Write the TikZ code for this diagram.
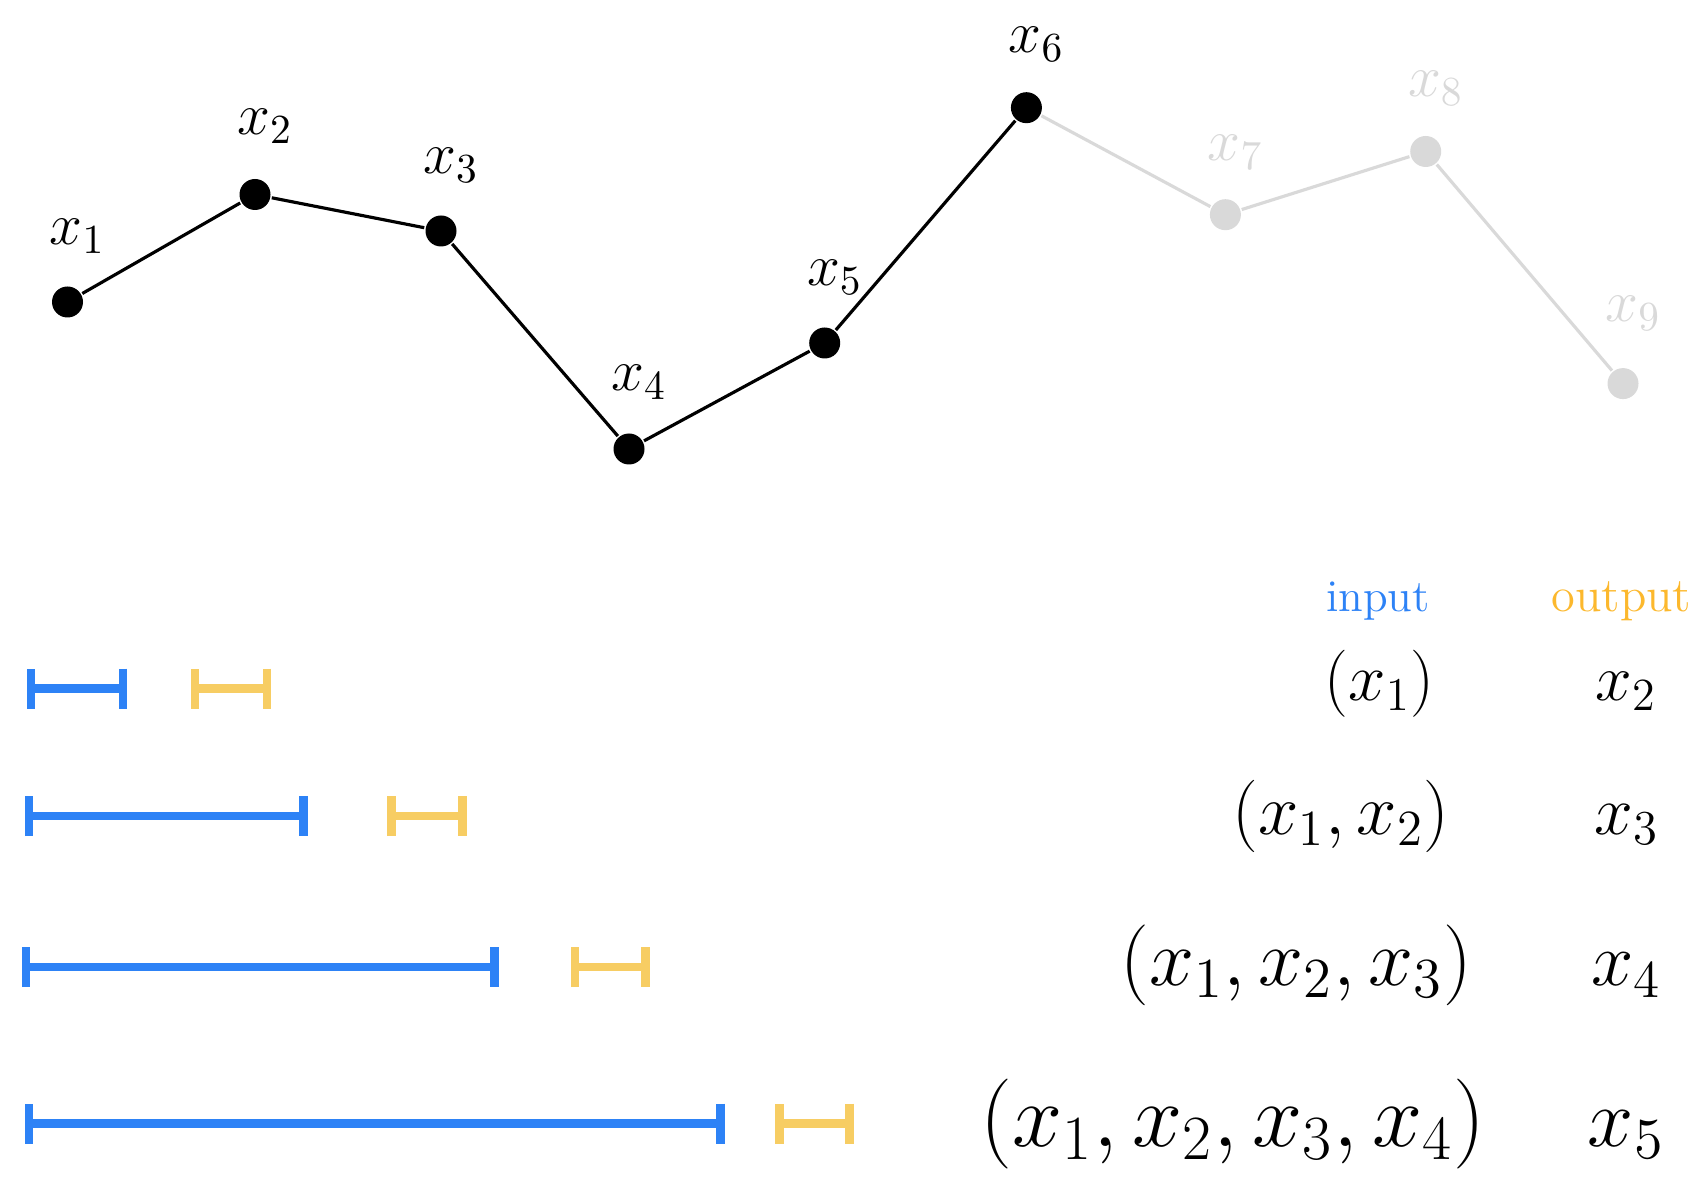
\RequirePackage{fix-cm}
\documentclass[tikz,border=0pt]{standalone}
\usepackage{amsmath,amssymb}
\usepackage{tikz}
\usetikzlibrary{arrows.meta,calc,positioning}
\tikzset{
  seqnode/.style = {circle, inner sep=0pt, minimum size=3.1mm, draw=none},
  pt_on/.style = {seqnode, fill=black},
  pt_off/.style = {seqnode, fill=my_gray},
  pt_lbl/.style = {anchor=base, inner sep=0pt, font=\fontsize{16.8}{20}\selectfont}
}
\definecolor{my_blue}{RGB}{45, 130, 246}
\definecolor{my_yellow}{RGB}{247, 205, 99}
\definecolor{my_orange}{RGB}{252, 184, 45}
\definecolor{my_gray}{RGB}{217, 217, 217}

\begin{document}
\begin{tikzpicture}[line width=0.9pt,
        in_bar/.style={draw=my_blue, line width=2.4pt, {Bar[width=4mm]}-{Bar[width=4mm]}},
        out_bar/.style={draw=my_yellow, line width=2.4pt, {Bar[width=4mm]}-{Bar[width=4mm]}},
        cell/.style={inner sep=0pt},
        row_a/.style={cell, font=\fontsize{19.1}{23}\selectfont},
        row_b/.style={cell, font=\fontsize{20.6}{24}\selectfont},
        row_c/.style={cell, font=\fontsize{23.0}{27}\selectfont},
        row_d/.style={cell, font=\fontsize{25.6}{30}\selectfont}]
    \useasboundingbox (0,0) rectangle (17.07,11.86);
    % sequence
    \node [pt_on] (p1) at (0.675,8.84) {};
    \node [pt_on] (p2) at (2.55,9.915) {};
    \node [pt_on] (p3) at (4.41,9.55) {};
    \node [pt_on] (p4) at (6.29,7.37) {};
    \node [pt_on] (p5) at (8.247,8.43) {};
    \node [pt_on] (p6) at (10.264,10.783) {};
    \node [pt_off] (p7) at (12.254,9.713) {};
    \node [pt_off] (p8) at (14.257,10.345) {};
    \node [pt_off] (p9) at (16.23,8.024) {};
    \draw [my_gray] (p6) -- (p7) -- (p8) -- (p9);
    \draw (p1) -- (p2) -- (p3) -- (p4) -- (p5) -- (p6);
    \node [pt_lbl] (l1) at ($(p1)+(0.1,0.57)$) {$x_1$};
    \node [pt_lbl] (l2) at ($(p2)+(0.1,0.6)$) {$x_2$};
    \node [pt_lbl] (l3) at ($(p3)+(0.1,0.57)$) {$x_3$};
    \node [pt_lbl] (l4) at ($(p4)+(0.1,0.58)$) {$x_4$};
    \node [pt_lbl] (l5) at ($(p5)+(0.1,0.57)$) {$x_5$};
    \node [pt_lbl] (l6) at ($(p6)+(0.1,0.55)$) {$x_6$};
    \node [pt_lbl, text=my_gray] (l7) at ($(p7)+(0.1,0.54)$) {$x_7$};
    \node [pt_lbl, text=my_gray] (l8) at ($(p8)+(0.1,0.55)$) {$x_8$};
    \node [pt_lbl, text=my_gray] (l9) at ($(p9)+(0.1,0.62)$) {$x_9$};
    % windows
    \coordinate (i1a) at (0.27,4.975);  \coordinate (i1b) at (1.27,4.975);
    \coordinate (o1a) at (1.91,4.975);  \coordinate (o1b) at (2.71,4.975);
    \coordinate (i2a) at (0.25,3.699);  \coordinate (i2b) at (3.079,3.699);
    \coordinate (o2a) at (3.872,3.699); \coordinate (o2b) at (4.669,3.699);
    \coordinate (i3a) at (0.215,2.189); \coordinate (i3b) at (4.985,2.189);
    \coordinate (o3a) at (5.709,2.189); \coordinate (o3b) at (6.495,2.189);
    \coordinate (i4a) at (0.25,0.623);  \coordinate (i4b) at (7.247,0.623);
    \coordinate (o4a) at (7.752,0.623); \coordinate (o4b) at (8.538,0.623);
    \draw [in_bar] (i1a) -- (i1b);
    \draw [out_bar] (o1a) -- (o1b);
    \draw [in_bar] (i2a) -- (i2b);
    \draw [out_bar] (o2a) -- (o2b);
    \draw [in_bar] (i3a) -- (i3b);
    \draw [out_bar] (o3a) -- (o3b);
    \draw [in_bar] (i4a) -- (i4b);
    \draw [out_bar] (o4a) -- (o4b);
    % table
    \node [anchor=base, text=my_blue, font=\fontsize{12.9}{15}\selectfont] (inhead) at (13.78,5.743) {input};
    \node [anchor=base, text=my_orange, font=\fontsize{13.8}{16}\selectfont] (outhead) at (16.214,5.743) {output};
    \node [row_a, anchor=base east] (in1) at (14.36,4.853) {$(x_1)$};
    \node [row_b, anchor=base east] (in2) at (14.51,3.517) {$(x_1, x_2)$};
    \node [row_c, anchor=base east] (in3) at (14.735,2.003) {$(x_1, x_2, x_3)$};
    \node [row_d, anchor=base east] (in4) at (14.87,0.40) {$(x_1, x_2, x_3, x_4)$};
    \node [cell, anchor=base, font=\fontsize{18.7}{22}\selectfont] (out1) at (16.26,4.853) {$x_2$};
    \node [cell, anchor=base, font=\fontsize{19.8}{24}\selectfont] (out2) at (16.27,3.517) {$x_3$};
    \node [cell, anchor=base, font=\fontsize{21.6}{26}\selectfont] (out3) at (16.26,2.003) {$x_4$};
    \node [cell, anchor=base, font=\fontsize{23.6}{28}\selectfont] (out4) at (16.26,0.40) {$x_5$};
\end{tikzpicture}
\end{document}
